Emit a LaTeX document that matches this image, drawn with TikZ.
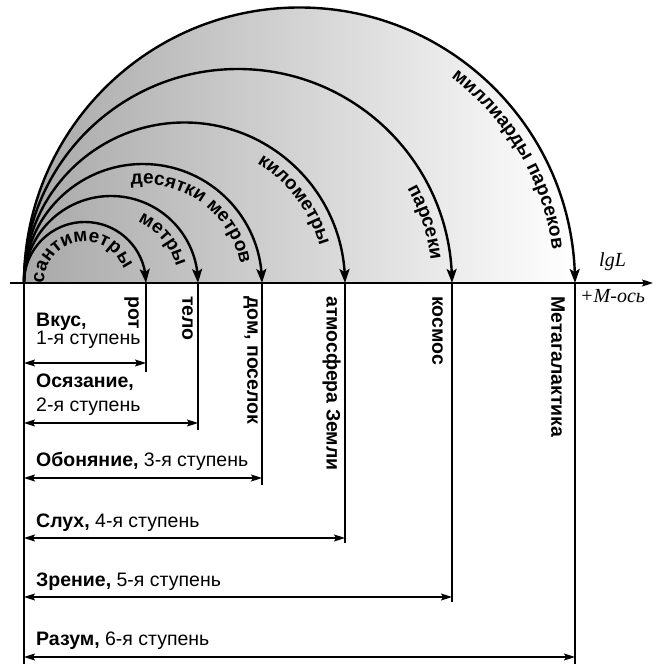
\documentclass[tikz,border=0pt]{standalone}
\usepackage{fontspec}
\setmainfont{Liberation Sans}
\newfontfamily\serifit{Liberation Serif}
\usetikzlibrary{arrows.meta,decorations.text,shadings,bending}
\begin{document}
\begin{tikzpicture}[x=1pt,y=1pt,
  arcline/.style={line width=2.4pt,-{Stealth[length=14pt,width=10pt,inset=3pt,flex]}},
  dimline/.style={line width=1.1pt,{Stealth[length=11pt,width=7pt,inset=2pt]}-{Stealth[length=11pt,width=7pt,inset=2pt]}},
  vline/.style={line width=1.2pt},
  lbl/.style={font=\fontsize{19.5}{21}\selectfont, inner sep=0pt, anchor=base west},
  vlbl/.style={font=\fontsize{19.5}{21}\selectfont\bfseries, inner sep=0pt, rotate=-90, anchor=north west},
  arclbl/.style={decorate, decoration={text along path, text align=center, text={|\fontsize{19}{21}\selectfont\bfseries|#1}}},
  axlbl/.style={font=\serifit\itshape\fontsize{20}{22}\selectfont, anchor=base west, inner sep=0pt},
]
\useasboundingbox (0,0) rectangle (661,664);
% origin and end points on the axis
\coordinate (O) at (24,381);
\coordinate (A1) at (146,381);
\coordinate (A2) at (198,381);
\coordinate (A3) at (262,381);
\coordinate (A4) at (345,381);
\coordinate (A5) at (452,381);
\coordinate (A6) at (575,381);
\coordinate (AxL) at (10,381);
\coordinate (AxR) at (653,381);
% shaded half disc
\shade[left color=black!34, right color=white] (O) arc[start angle=180, end angle=0, radius=275.5] -- cycle;
% axis
\draw[line width=1.1pt,-{Stealth[length=11pt,width=7pt,inset=2pt]}] (AxL) -- (AxR);
\node[axlbl] (lgl) at (599,397) {lgL};
\node[axlbl] (mos) at (580,361) {+M-ось};
% arcs
\draw[arcline] (O) arc[start angle=180, end angle=0, radius=61];
\draw[arcline] (O) arc[start angle=180, end angle=0, radius=87];
\draw[arcline] (O) arc[start angle=180, end angle=0, radius=119];
\draw[arcline] (O) arc[start angle=180, end angle=0, radius=160.5];
\draw[arcline] (O) arc[start angle=180, end angle=0, radius=214];
\draw[arcline] (O) arc[start angle=180, end angle=0, radius=275.5];
% arc labels
\path[arclbl=сантиметры] (85,381) ++(174:41) arc[start angle=174, end angle=26, radius=41];
\path[arclbl=метры] (111,381) ++(78:67) arc[start angle=78, end angle=2, radius=67];
\path[arclbl=десятки метров] (143,381) ++(98:99) arc[start angle=98, end angle=10, radius=99];
\path[arclbl=километры] (184.5,381) ++(58:140) arc[start angle=58, end angle=16, radius=140];
\path[arclbl=парсеки] (238,381) ++(31:194) arc[start angle=31, end angle=5, radius=194];
\path[arclbl=миллиарды парсеков] (299.5,381) ++(53:255) arc[start angle=53, end angle=8, radius=255];
% vertical lines
\coordinate (B0) at (24,0);
\coordinate (B1) at (146,292);
\coordinate (B2) at (198,234);
\coordinate (B3) at (262,179);
\coordinate (B4) at (345,121);
\coordinate (B5) at (452,62);
\coordinate (B6) at (575,0);
\draw[vline] (O) -- (B0);
\draw[vline] (A1) -- (B1);
\draw[vline] (A2) -- (B2);
\draw[vline] (A3) -- (B3);
\draw[vline] (A4) -- (B4);
\draw[vline] (A5) -- (B5);
\draw[vline] (A6) -- (B6);
% rotated labels
\node[vlbl] (rot) at (139,368) {рот};
\node[vlbl] (telo) at (193,368) {тело};
\node[vlbl] (dom) at (258,368) {дом, поселок};
\node[vlbl] (atm) at (341,368) {атмосфера Земли};
\node[vlbl] (kos) at (443,368) {космос};
\node[vlbl] (meta) at (565,368) {Метагалактика};
% double arrows
\coordinate (L1) at (24,301); \coordinate (R1) at (146,301);
\coordinate (L2) at (24,241); \coordinate (R2) at (198,241);
\coordinate (L3) at (24,186); \coordinate (R3) at (262,186);
\coordinate (L4) at (24,126); \coordinate (R4) at (345,126);
\coordinate (L5) at (24,67);  \coordinate (R5) at (452,67);
\coordinate (L6) at (24,7);   \coordinate (R6) at (575,7);
\draw[dimline] (L1) -- (R1);
\draw[dimline] (L2) -- (R2);
\draw[dimline] (L3) -- (R3);
\draw[dimline] (L4) -- (R4);
\draw[dimline] (L5) -- (R5);
\draw[dimline] (L6) -- (R6);
% step labels
\node[lbl] (s1a) at (36,337) {\textbf{Вкус,}};
\node[lbl] (s1b) at (36,319) {1-я ступень};
\node[lbl] (s2a) at (36,276) {\textbf{Осязание,}};
\node[lbl] (s2b) at (36,252) {2-я ступень};
\node[lbl] (s3) at (36,197) {\textbf{Обоняние,} 3-я ступень};
\node[lbl] (s4) at (36,136) {\textbf{Слух,} 4-я ступень};
\node[lbl] (s5) at (36,77) {\textbf{Зрение,} 5-я ступень};
\node[lbl] (s6) at (36,19) {\textbf{Разум,} 6-я ступень};
\end{tikzpicture}
\end{document}
